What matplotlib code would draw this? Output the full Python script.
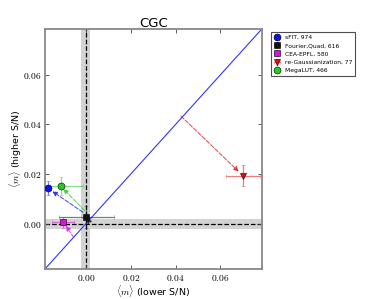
import numpy as np
import matplotlib
matplotlib.use("Agg")
import matplotlib.pyplot as plt
from matplotlib.colors import to_rgba
from matplotlib.ticker import FuncFormatter

plt.rcParams['mathtext.fontset'] = 'cm'

# data
methods = ['sFIT, 974', 'Fourier,Quad, 616', 'CEA-EPFL, 580', 're-Gaussianization, 77', 'MegaLUT, 466']
colors = ['#1010ee', '#111111', '#dd11dd', '#dd1111', '#22cc22']
markers = ['o', 's', 's', 'v', 'o']
m_low = [-0.0167, 0.0000, -0.0101, 0.0700, -0.0112]
m_high = [0.0143, 0.0028, 0.0005, 0.0193, 0.0153]
xerr_lo = [0.0012, 0.0122, 0.0052, 0.0075, 0.0050]
xerr_hi = [0.0012, 0.0125, 0.0050, 0.0075, 0.0099]
yerr = [0.0028, 0.0045, 0.0022, 0.0042, 0.0036]
# dashed arrows: start and end points
arrow_start = [(-0.0013, 0.0046), (0.0012, 0.0012), (-0.0054, -0.0056), (0.0424, 0.0434), (-0.0006, 0.0053)]
arrow_end = [(-0.0150, 0.0131), (0.0004, 0.0022), (-0.0089, -0.0008), (0.0682, 0.0210), (-0.0101, 0.0141)]

lims = (-0.0183, 0.0785)
band = 0.002

fig = plt.figure(figsize=(3.74, 2.99), dpi=100)
ax = fig.add_axes([0.120, 0.100, 0.580, 0.803])

ax.axvspan(-band, band, color='#d3d3d3', lw=0, zorder=0)
ax.axhspan(-band, band, color='#d3d3d3', lw=0, zorder=0)
ax.axvline(0, color='k', ls='--', lw=0.9, zorder=1)
ax.axhline(0, color='k', ls='--', lw=0.9, zorder=1)
ax.plot(lims, lims, color='#3333ff', lw=0.8, zorder=2)

for i in range(len(methods)):
    ax.annotate('', xy=arrow_end[i], xytext=arrow_start[i],
                arrowprops=dict(arrowstyle='-|>', linestyle='--', color=colors[i],
                                lw=0.8, alpha=0.7, mutation_scale=7,
                                shrinkA=0, shrinkB=0), zorder=3)
    ax.errorbar(m_low[i], m_high[i],
                xerr=[[xerr_lo[i]], [xerr_hi[i]]], yerr=[[yerr[i]], [yerr[i]]],
                fmt=markers[i], color=colors[i], ecolor=to_rgba(colors[i], 0.55),
                elinewidth=0.9, capsize=1.5, capthick=0.8, markersize=5,
                markeredgecolor='k', markeredgewidth=0.4, label=methods[i], zorder=4)

ax.set_xlim(lims)
ax.set_ylim(lims)
ax.set_xticks([0.0, 0.02, 0.04, 0.06])
ax.set_yticks([0.0, 0.02, 0.04, 0.06])
fmt = FuncFormatter(lambda v, p: r'$%.2f$' % v)
ax.xaxis.set_major_formatter(fmt)
ax.yaxis.set_major_formatter(fmt)
ax.tick_params(direction='in', top=True, right=True, labelsize=6.8, length=3,
               width=0.6, color='#444444', pad=2.5)
for s in ax.spines.values():
    s.set_color('#888888')
    s.set_linewidth(1.3)

ax.set_title('CGC', fontsize=9.5, pad=1.5)
ax.set_xlabel(r'$\langle m \rangle$ (lower S/N)', fontsize=6.8, labelpad=0)
ax.set_ylabel(r'$\langle m \rangle$ (higher S/N)', fontsize=6.8, labelpad=-1)

leg = ax.legend(loc='upper left', bbox_to_anchor=(1.028, 1.0), fontsize=4.3,
                numpoints=1, frameon=True, fancybox=False, borderpad=0.5,
                handletextpad=0.6, labelspacing=0.5, handlelength=1.2)
leg.get_frame().set_edgecolor('#222222')
leg.get_frame().set_linewidth(0.8)

fig.savefig('out.png', dpi=100)
